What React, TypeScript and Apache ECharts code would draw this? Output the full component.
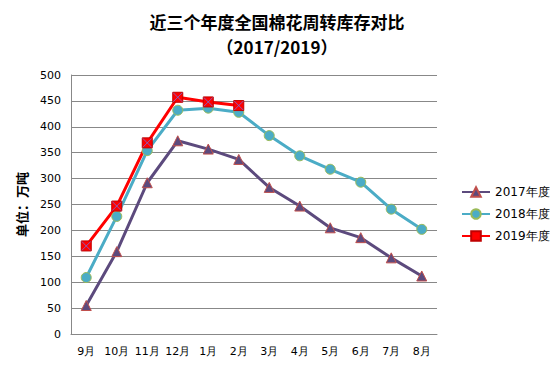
import React, { useEffect, useRef } from "react";
import * as echarts from "echarts";

const categories = ["9月", "10月", "11月", "12月", "1月", "2月", "3月", "4月", "5月", "6月", "7月", "8月"];
const s2017 = [55, 159, 292, 373, 357, 337, 283, 247, 205, 186, 147, 112];
const s2018 = [109, 227, 354, 432, 436, 428, 383, 344, 318, 293, 241, 202];
const s2019 = [170, 247, 369, 457, 448, 441];
const seriesNames = ["2017年度", "2018年度", "2019年度"];
const yTicks = { min: 0, max: 500, interval: 50 };

export default function App() {
  const ref = useRef<HTMLDivElement>(null);
  useEffect(() => {
    const chart = echarts.init(ref.current!, null, { renderer: "svg" });
    const font = "'DejaVu Sans', Verdana, sans-serif";
    chart.setOption({
      animation: false,
      backgroundColor: "#fff",
      title: {
        text: "近三个年度全国棉花周转库存对比\n（2017/2019）",
        left: "center",
        top: 4,
        textStyle: {
          fontFamily: "'Noto Sans CJK SC'",
          fontWeight: "bold",
          fontSize: 17,
          lineHeight: 25,
          color: "#000",
        },
      },
      grid: { left: 71, right: 117, top: 75, bottom: 35 },
      legend: {
        orient: "vertical",
        left: 456,
        top: 181,
        itemWidth: 28,
        itemHeight: 12,
        itemGap: 10,
        data: seriesNames,
        textStyle: { fontFamily: font, fontSize: 12, color: "#000" },
      },
      xAxis: {
        type: "category",
        data: categories,
        boundaryGap: true,
        axisLine: { lineStyle: { color: "#888", width: 1 } },
        axisTick: { show: false },
        axisLabel: { fontFamily: font, fontSize: 11, color: "#000", margin: 12, interval: 0 },
      },
      yAxis: {
        type: "value",
        min: yTicks.min,
        max: yTicks.max,
        interval: yTicks.interval,
        name: "单位：万吨",
        nameLocation: "middle",
        nameGap: 43,
        nameRotate: 90,
        nameTextStyle: { fontFamily: "'Noto Sans CJK SC'", fontWeight: "bold", fontSize: 13, color: "#000" },
        axisLine: { show: true, lineStyle: { color: "#888", width: 1 } },
        axisTick: { show: false },
        splitLine: { lineStyle: { color: "#888", width: 1 } },
        axisLabel: { fontFamily: font, fontSize: 11, color: "#000", margin: 10 },
      },
      series: [
        {
          name: seriesNames[0],
          type: "line",
          data: s2017,
          symbol: "triangle",
          symbolSize: 10,
          lineStyle: { color: "#5C4A7D", width: 3 },
          itemStyle: { color: "#5C4A7D", borderColor: "#C0504D", borderWidth: 1 },
        },
        {
          name: seriesNames[1],
          type: "line",
          data: s2018,
          symbol: "circle",
          symbolSize: 10,
          lineStyle: { color: "#4BACC6", width: 3 },
          itemStyle: { color: "#4BACC6", borderColor: "#9BBB59", borderWidth: 1 },
        },
        {
          name: seriesNames[2],
          type: "line",
          data: s2019,
          symbol: "rect",
          symbolSize: 10,
          lineStyle: { color: "#FF0000", width: 3 },
          itemStyle: { color: "#FF0000", borderColor: "#C00000", borderWidth: 1 },
        },
        {
          name: "x",
          type: "scatter",
          data: s2019,
          symbol: "path://M0,0L10,10M10,0L0,10",
          symbolSize: 9,
          itemStyle: { color: "none", borderColor: "#7070E0", borderWidth: 1 },
          z: 5,
          silent: true,
        },
      ],
    });
    return () => chart.dispose();
  }, []);
  return <div ref={ref} style={{ width: 554, height: 369, position: "absolute", left: 0, top: 0 }} />;
}
